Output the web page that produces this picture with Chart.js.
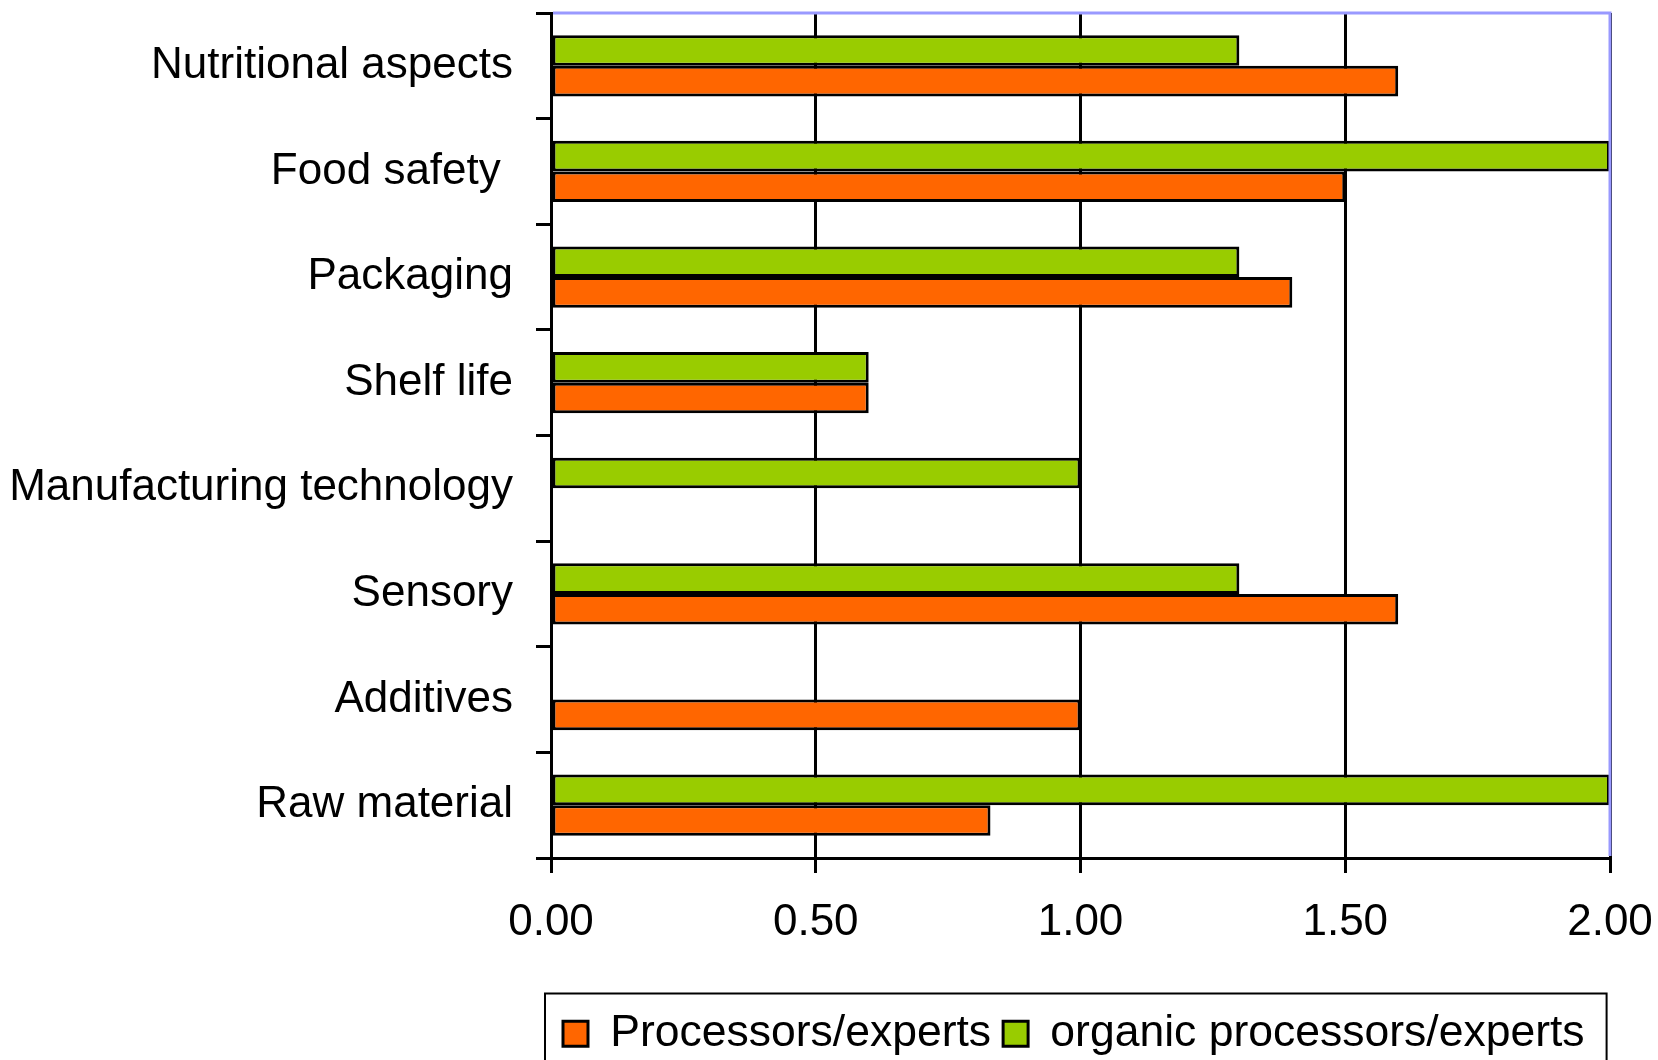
<!DOCTYPE html>
<html>
<head>
<meta charset="utf-8">
<script src="https://cdn.jsdelivr.net/npm/chart.js@4/dist/chart.umd.min.js"></script>
<style>
html,body{margin:0;padding:0;background:#fff;overflow:hidden;width:1658px;height:1060px;}
#wrap{position:relative;width:1658px;height:1066px;}
</style>
</head>
<body>
<div id="wrap"><canvas id="c"></canvas></div>
<script>
const categories = ["Nutritional aspects", "Food safety ", "Packaging", "Shelf life", "Manufacturing technology", "Sensory", "Additives", "Raw material"];
const organicValues = [1.30, 2.00, 1.30, 0.60, 1.00, 1.30, null, 2.00];
const processorValues = [1.60, 1.50, 1.40, 0.60, null, 1.60, 1.00, 0.83];
const seriesNames = ["Processors/experts", "organic processors/experts"];
const xTicks = [0, 0.5, 1.0, 1.5, 2.0];

const FONT = "'Liberation Sans', Arial, sans-serif";

const framePlugin = {
  id: 'frame',
  afterDraw(chart) {
    const ctx = chart.ctx;
    const a = chart.chartArea;
    ctx.save();
    ctx.strokeStyle = '#9999FF';
    ctx.lineWidth = 3;
    ctx.beginPath();
    ctx.moveTo(a.left + 2, a.top);
    ctx.lineTo(a.right, a.top);
    ctx.lineTo(a.right, a.bottom - 2);
    ctx.stroke();
    // legend frame
    const hb = chart.legend.legendHitBoxes;
    if (hb && hb.length) {
      const last = hb[hb.length - 1];
      const l = hb[0].left - 18;
      const r = last.left + last.width + 22;
      const t = hb[0].top - 18;
      ctx.strokeStyle = '#000';
      ctx.lineWidth = 2;
      ctx.beginPath();
      ctx.moveTo(l, chart.height + 40);
      ctx.lineTo(l, t);
      ctx.lineTo(r, t);
      ctx.lineTo(r, chart.height + 40);
      ctx.stroke();
    }
    ctx.restore();
  }
};

new Chart(document.getElementById('c'), {
  type: 'bar',
  data: {
    labels: categories,
    datasets: [
      {
        label: seriesNames[1],
        data: organicValues,
        backgroundColor: '#99CC00',
        borderColor: '#000',
        borderWidth: 3,
        borderSkipped: false,
        categoryPercentage: 0.58,
        barPercentage: 1.0
      },
      {
        label: seriesNames[0],
        data: processorValues,
        backgroundColor: '#FF6600',
        borderColor: '#000',
        borderWidth: 3,
        borderSkipped: false,
        categoryPercentage: 0.58,
        barPercentage: 1.0
      }
    ]
  },
  options: {
    indexAxis: 'y',
    responsive: true,
    maintainAspectRatio: false,
    animation: false,
    layout: { padding: { top: 13, right: 48, left: 0, bottom: 0 } },
    scales: {
      x: {
        min: 0, max: 2,
        afterBuildTicks(scale) { scale.ticks = xTicks.map(v => ({ value: v })); },
        afterFit(scale) { scale.height = 141.5; scale.paddingLeft = 0; scale.paddingRight = 0; },
        grid: { color: '#000', lineWidth: 3, tickLength: 15, drawTicks: true },
        border: { color: '#000', width: 3 },
        ticks: {
          color: '#000',
          font: { family: FONT, size: 44 },
          padding: 23,
          callback: (v) => Number(v).toFixed(2)
        }
      },
      y: {
        afterFit(scale) { scale.width = 551; scale.paddingTop = 0; scale.paddingBottom = 0; },
        grid: { drawOnChartArea: false, color: '#000', lineWidth: 3, tickLength: 15 },
        border: { color: '#000', width: 3 },
        ticks: {
          color: '#000',
          font: { family: FONT, size: 44 },
          padding: 23
        }
      }
    },
    plugins: {
      tooltip: { enabled: false },
      legend: {
        position: 'bottom',
        fullSize: false,
        align: 'start',
        reverse: true,
        labels: {
          color: '#000',
          font: { family: FONT, size: 44.5 },
          boxWidth: 25,
          boxHeight: 25,
          padding: 12,
          useBorderRadius: false
        }
      }
    }
  },
  plugins: [framePlugin]
});
</script>
</body>
</html>
